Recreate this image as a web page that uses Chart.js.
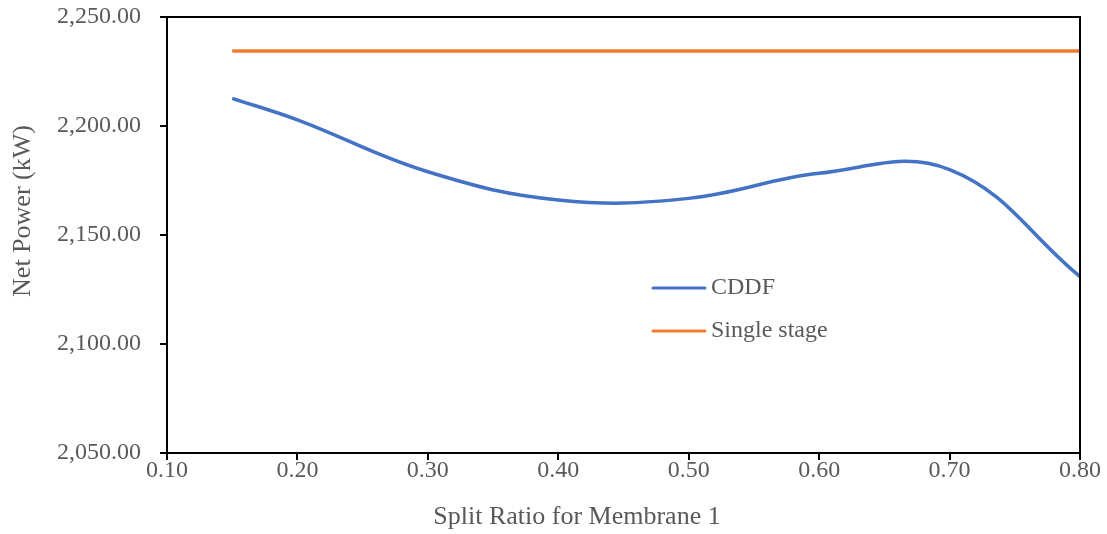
<!DOCTYPE html>
<html>
<head>
<meta charset="utf-8">
<script src="https://cdn.jsdelivr.net/npm/chart.js@4.4.1/dist/chart.umd.min.js"></script>
<style>
  body { margin: 0; background: #fff; }
  #wrap { width: 1107px; height: 534px; }
</style>
</head>
<body>
<div id="wrap"><canvas id="grafico" width="1107" height="534"></canvas></div>
<script>
// split ratio (x) e potencia liquida (kW)
const splitRatio = [0.15, 0.2, 0.3, 0.4, 0.5, 0.6, 0.7, 0.8];
const cddf = [2212.7, 2202.8, 2179.0, 2166.1, 2166.8, 2178.3, 2180.0, 2130.9];
const singleX = [0.15, 0.8];
const singleStage = [2234.4, 2234.4];
const xTicks = [0.1, 0.2, 0.3, 0.4, 0.5, 0.6, 0.7, 0.8];

const fonte = "'Liberation Serif', 'Times New Roman', serif";
const cinza = "#595959";

function pontos(xs, ys) {
  return xs.map((x, i) => ({ x: x, y: ys[i] }));
}

// moldura + titulos dos eixos + legenda dentro do grafico
const extras = {
  id: "extras",
  afterDraw(chart) {
    const ctx = chart.ctx;
    const a = chart.chartArea;
    ctx.save();
    ctx.strokeStyle = "#000";
    ctx.lineWidth = 2;
    ctx.beginPath();
    ctx.moveTo(a.left, a.top);
    ctx.lineTo(a.right, a.top);
    ctx.lineTo(a.right, a.bottom);
    ctx.stroke();

    ctx.fillStyle = cinza;
    ctx.font = "26px " + fonte;
    ctx.textAlign = "center";
    ctx.textBaseline = "middle";
    ctx.fillText("Split Ratio for Membrane 1", 577, 517);
    ctx.save();
    ctx.translate(23, 211);
    ctx.rotate(-Math.PI / 2);
    ctx.fillText("Net Power (kW)", 0, 0);
    ctx.restore();

    // legenda
    ctx.font = "24px " + fonte;
    const itens = chart.data.datasets;
    itens.forEach((ds, i) => {
      const y = 288 + i * 43;
      ctx.strokeStyle = ds.borderColor;
      ctx.lineWidth = 3;
      ctx.lineCap = "round";
      ctx.beginPath();
      ctx.moveTo(653, y);
      ctx.lineTo(705, y);
      ctx.stroke();
      ctx.textAlign = "left";
      ctx.fillStyle = cinza;
      ctx.fillText(ds.label, 711, y);
    });
    ctx.restore();
  },
};

const grafico = new Chart(document.getElementById("grafico"), {
  type: "line",
  data: {
    datasets: [
      {
        label: "CDDF",
        data: pontos(splitRatio, cddf),
        borderColor: "#4472C4",
        backgroundColor: "#4472C4",
        borderWidth: 3.5,
        pointRadius: 0,
        tension: 0.4,
      },
      {
        label: "Single stage",
        data: pontos(singleX, singleStage),
        borderColor: "#ED7D31",
        backgroundColor: "#ED7D31",
        borderWidth: 3.5,
        pointRadius: 0,
      },
    ],
  },
  options: {
    responsive: false,
    animation: false,
    layout: { padding: { left: 0, right: 27, top: 17, bottom: 0 } },
    plugins: {
      legend: { display: false },
      tooltip: { enabled: false },
    },
    scales: {
      x: {
        type: "linear",
        min: 0.1,
        max: 0.8,
        afterBuildTicks: (scale) => {
          scale.ticks = xTicks.map((v) => ({ value: v }));
        },
        afterFit: (scale) => {
          scale.height = 81;
          scale.paddingLeft = 0;
          scale.paddingRight = 0;
        },
        border: { color: "#000", width: 2 },
        grid: { drawOnChartArea: false, color: "#000", tickLength: 7, lineWidth: 2 },
        ticks: {
          color: cinza,
          font: { family: fonte, size: 24 },
          padding: -4,
          maxRotation: 0,
          callback: (v) => v.toFixed(2),
        },
      },
      y: {
        min: 2050,
        max: 2250,
        afterFit: (scale) => {
          scale.width = 167;
          scale.paddingTop = 0;
          scale.paddingBottom = 0;
        },
        border: { color: "#000", width: 2 },
        grid: { drawOnChartArea: false, color: "#000", tickLength: 7, lineWidth: 2 },
        ticks: {
          stepSize: 50,
          color: cinza,
          font: { family: fonte, size: 24 },
          padding: 19,
          callback: (v) =>
            v.toLocaleString("en-US", { minimumFractionDigits: 2, maximumFractionDigits: 2 }),
        },
      },
    },
  },
  plugins: [extras],
});
</script>
</body>
</html>
